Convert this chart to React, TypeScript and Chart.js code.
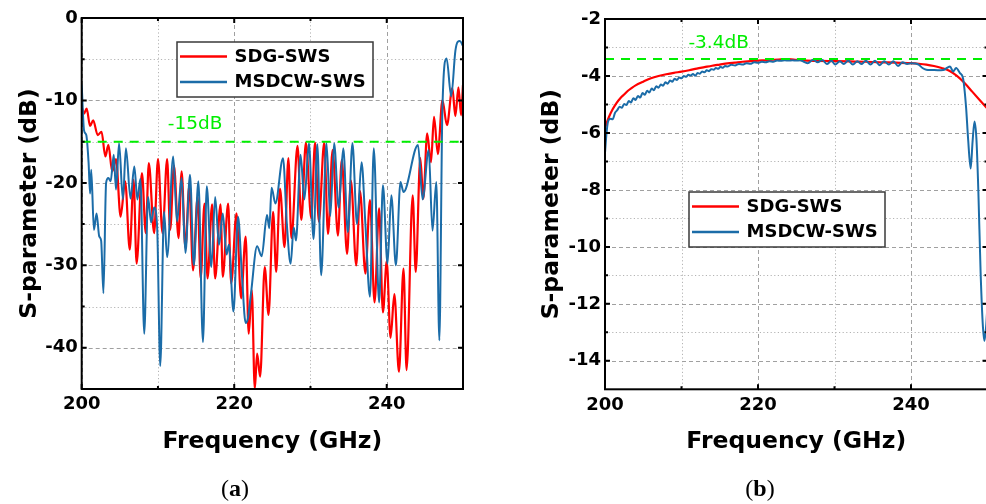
import React, { useEffect, useRef } from 'react';
import { Chart, registerables } from 'chart.js';

Chart.register(...registerables);

// ---------------- data ----------------
const SERIES_NAMES = ['SDG-SWS', 'MSDCW-SWS'];
const FREQ_MIN = 200;
const FREQ_MAX = 250;
const X_TICKS = [200, 220, 240];
const X_MINOR = [210, 230];

const A_Y_MIN = -45;
const A_Y_MAX = 0;
const A_Y_TICKS = [0, -10, -20, -30, -40];
const A_Y_MINOR = [-5, -15, -25, -35];
const A_THRESHOLD = -15;
const A_THRESHOLD_LABEL = '-15dB';

const B_Y_MIN = -15;
const B_Y_MAX = -2;
const B_Y_TICKS = [-2, -4, -6, -8, -10, -12, -14];
const B_Y_MINOR = [-3, -5, -7, -9, -11, -13];
const B_THRESHOLD = -3.4;
const B_THRESHOLD_LABEL = '-3.4dB';

// (a) reflection, SDG-SWS  [GHz, dB]
const A_SDG: [number, number][] = [
  [200.0, -10.8], [200.3, -11.6], [200.65, -11.0], [201.1, -13.1], [201.5, -12.4], [202.1, -14.2],
  [202.6, -13.8], [203.1, -16.8], [203.5, -15.4], [204.0, -18.6], [204.5, -17.1], [205.1, -24.1],
  [205.7, -19.8], [206.3, -28.1], [206.8, -19.6], [207.2, -29.8], [207.9, -18.8], [208.4, -26.1],
  [208.8, -17.6], [209.5, -26.1], [210.0, -17.1], [210.6, -26.1], [211.2, -17.1], [211.6, -25.7],
  [212.1, -17.9], [212.7, -26.7], [213.1, -18.6], [213.6, -27.9], [214.1, -20.4], [214.6, -30.6],
  [215.2, -21.7], [215.6, -31.6], [216.1, -22.5], [216.5, -31.6], [217.1, -22.6], [217.5, -31.6],
  [218.2, -22.6], [218.5, -31.4], [219.2, -22.5], [219.6, -32.2], [220.3, -23.7], [220.9, -34.0],
  [221.5, -26.5], [221.9, -38.3], [222.3, -33.0], [222.7, -45.0], [223.0, -40.7], [223.4, -43.5],
  [224.0, -30.2], [224.5, -36.0], [225.1, -23.5], [225.5, -30.8], [226.0, -20.7], [226.6, -27.8],
  [227.1, -17.0], [227.5, -26.7], [228.3, -15.5], [228.8, -24.5], [229.4, -15.1], [230.1, -24.3],
  [230.6, -15.1], [231.1, -24.7], [231.8, -15.1], [232.3, -26.2], [232.9, -16.0], [233.6, -26.4],
  [234.1, -17.2], [234.8, -28.6], [235.3, -19.7], [236.0, -30.0], [236.5, -21.0], [237.2, -31.0],
  [237.8, -22.1], [238.4, -34.5], [239.0, -23.1], [239.5, -35.7], [240.0, -29.5], [240.5, -38.8],
  [241.0, -33.5], [241.6, -42.9], [242.2, -30.4], [242.6, -42.7], [243.4, -21.5], [243.8, -30.8],
  [244.4, -17.0], [244.8, -21.9], [245.3, -14.0], [245.8, -17.5], [246.2, -12.0], [246.7, -16.5],
  [247.3, -10.0], [247.9, -13.0], [248.6, -8.5], [249.0, -11.9], [249.4, -8.4], [249.75, -11.8],
  [250.0, -8.1],
];

// (a) reflection, MSDCW-SWS
const A_MSDCW: [number, number][] = [
  [200.0, -8.1], [200.3, -13.6], [200.6, -14.2], [200.9, -17.5], [201.1, -21.3], [201.25, -18.4],
  [201.6, -25.7], [201.95, -23.7], [202.3, -26.5], [202.55, -27.0], [202.85, -33.4], [203.2, -20.0],
  [203.5, -19.4], [203.8, -19.8], [204.2, -16.6], [204.5, -20.8], [204.9, -15.2], [205.4, -22.0],
  [205.8, -15.8], [206.4, -21.9], [206.9, -18.0], [207.3, -22.0], [207.7, -19.5], [208.2, -38.3],
  [208.7, -21.7], [209.1, -24.8], [209.5, -23.0], [209.9, -25.5], [210.3, -42.2], [210.8, -23.5],
  [211.2, -29.0], [212.0, -16.8], [212.5, -24.7], [213.1, -19.4], [213.6, -28.5], [214.2, -19.0],
  [214.7, -30.0], [215.3, -19.8], [215.9, -39.3], [216.4, -20.4], [217.0, -30.2], [217.5, -21.7],
  [218.0, -27.5], [218.5, -23.7], [219.0, -28.7], [219.3, -27.5], [219.9, -35.6], [220.5, -24.1],
  [221.0, -31.0], [221.5, -37.0], [221.8, -36.4], [222.2, -33.4], [223.0, -27.7], [223.6, -28.9],
  [224.3, -23.9], [224.6, -25.5], [224.9, -20.6], [225.4, -22.5], [226.4, -17.0], [226.9, -25.0],
  [227.4, -29.8], [227.8, -25.4], [228.1, -27.0], [228.7, -16.6], [229.2, -22.0], [229.8, -15.2],
  [230.4, -26.8], [230.9, -15.3], [231.4, -31.2], [232.1, -15.2], [232.6, -24.0], [233.1, -15.2],
  [233.7, -23.0], [234.3, -15.8], [234.9, -26.0], [235.5, -15.2], [236.1, -25.0], [236.7, -17.5],
  [237.2, -25.0], [237.8, -33.8], [238.3, -15.8], [239.0, -34.5], [239.5, -20.3], [240.1, -29.8],
  [240.6, -21.5], [241.2, -30.0], [241.8, -19.9], [242.2, -21.1], [244.1, -15.4], [244.7, -22.0],
  [245.5, -16.0], [246.0, -25.8], [246.5, -19.9], [246.9, -39.1], [247.3, -11.0], [247.85, -4.9],
  [248.45, -9.5], [249.0, -4.0], [249.3, -2.9], [249.6, -2.8], [250.0, -3.4],
];

// (b) transmission, SDG-SWS
const B_SDG: [number, number][] = [
  [200.0, -5.82], [200.5, -5.45], [201.0, -5.17], [201.5, -4.95], [202.0, -4.78], [202.5, -4.65],
  [203.0, -4.52], [203.5, -4.42], [204.0, -4.33], [205.0, -4.2], [206.0, -4.08], [207.0, -4.0],
  [208.0, -3.94], [209.0, -3.89], [210.0, -3.85], [211.0, -3.8], [212.0, -3.74], [213.0, -3.69],
  [214.0, -3.64], [215.0, -3.6], [216.0, -3.56], [217.0, -3.53], [218.0, -3.5], [219.0, -3.48],
  [220.0, -3.46], [221.0, -3.45], [222.0, -3.43], [223.0, -3.42], [224.0, -3.41], [225.0, -3.43],
  [226.0, -3.45], [228.0, -3.47], [230.0, -3.48], [232.0, -3.49], [234.0, -3.5], [236.0, -3.52],
  [238.0, -3.53], [240.0, -3.55], [241.0, -3.57], [242.0, -3.6], [243.0, -3.65], [244.0, -3.72],
  [245.0, -3.82], [246.0, -4.0], [247.0, -4.25], [248.0, -4.55], [249.0, -4.85], [250.0, -5.15],
];

// (b) transmission, MSDCW-SWS
const B_MSDCW: [number, number][] = [
  [200.0, -6.7], [200.2, -6.0], [200.4, -5.6], [200.7, -5.5], [201.0, -5.52], [201.3, -5.3],
  [201.6, -5.2], [201.9, -5.08], [202.2, -5.12], [202.5, -4.98], [202.8, -5.02], [203.1, -4.88],
  [203.4, -4.93], [203.7, -4.78], [204.0, -4.84], [204.3, -4.7], [204.6, -4.76], [204.9, -4.6],
  [205.2, -4.66], [205.5, -4.52], [205.8, -4.58], [206.1, -4.44], [206.4, -4.5], [206.7, -4.36],
  [207.0, -4.41], [207.3, -4.3], [207.6, -4.34], [207.9, -4.22], [208.2, -4.27], [208.5, -4.16],
  [208.8, -4.2], [209.1, -4.1], [209.4, -4.14], [209.7, -4.05], [210.0, -4.08], [210.3, -4.0],
  [210.6, -4.03], [210.9, -3.96], [211.2, -3.98], [211.5, -3.93], [211.8, -3.99], [212.1, -3.9],
  [212.4, -3.92], [212.7, -3.84], [213.0, -3.87], [213.3, -3.8], [213.6, -3.83], [213.9, -3.76],
  [214.2, -3.78], [214.5, -3.72], [214.8, -3.75], [215.1, -3.68], [215.4, -3.71], [215.7, -3.65],
  [216.0, -3.67], [216.5, -3.61], [217.0, -3.63], [217.5, -3.58], [218.0, -3.6], [218.5, -3.55],
  [219.0, -3.57], [219.5, -3.52], [220.0, -3.54], [220.5, -3.5], [221.0, -3.52], [221.5, -3.48],
  [222.0, -3.5], [222.5, -3.46], [223.0, -3.47], [223.5, -3.45], [224.0, -3.46], [224.5, -3.45],
  [225.0, -3.46], [225.5, -3.45], [226.0, -3.5], [226.5, -3.55], [227.2, -3.43], [227.8, -3.52],
  [228.4, -3.44], [229.0, -3.58], [229.6, -3.47], [230.1, -3.6], [230.7, -3.48], [231.2, -3.58],
  [231.8, -3.46], [232.4, -3.6], [233.0, -3.48], [233.5, -3.58], [234.1, -3.47], [234.7, -3.6],
  [235.3, -3.47], [235.9, -3.62], [236.5, -3.48], [237.1, -3.6], [237.7, -3.48], [238.3, -3.65],
  [238.9, -3.52], [239.5, -3.58], [240.0, -3.55], [240.5, -3.56], [241.0, -3.6], [241.5, -3.72],
  [242.0, -3.78], [242.7, -3.79], [243.5, -3.8], [244.2, -3.79], [244.7, -3.72], [245.1, -3.67],
  [245.5, -3.84], [245.9, -3.72], [246.4, -3.9], [246.8, -4.08], [247.2, -5.1], [247.45, -6.15],
  [247.8, -7.25], [248.05, -6.3], [248.3, -5.6], [248.55, -6.2], [248.8, -8.0], [249.1, -10.9],
  [249.4, -12.8], [249.6, -13.3], [249.85, -12.7], [250.0, -12.0],
];

// ---------------- styles / layout ----------------
const RED = '#ff0000';
const BLUE = '#1b6ca8';
const GREEN = '#00ee00';
const FONT = "'DejaVu Sans', 'Liberation Sans', sans-serif";
const CANVAS_H = 504;

type Panel = {
  caption: string;
  canvasLeft: number;
  canvasWidth: number;
  plotLeft: number;
  plotRight: number;
  plotTop: number;
  plotBottom: number;
  yMin: number;
  yMax: number;
  yTicks: number[];
  yMinor: number[];
  threshold: number;
  thrLabel: string;
  thrLabelFreq: number;
  thrLabelLift: number;
  legendDx: number;
  legendDy: number;
  yTitleCenter: number;
  captionCenter: number;
  sdg: [number, number][];
  msdcw: [number, number][];
};

const PANELS: Panel[] = [
  {
    caption: 'a', canvasLeft: 0, canvasWidth: 486,
    plotLeft: 81.7, plotRight: 463, plotTop: 18, plotBottom: 389,
    yMin: A_Y_MIN, yMax: A_Y_MAX, yTicks: A_Y_TICKS, yMinor: A_Y_MINOR,
    threshold: A_THRESHOLD, thrLabel: A_THRESHOLD_LABEL, thrLabelFreq: 211.3, thrLabelLift: 12.2,
    legendDx: 95.3, legendDy: 24, yTitleCenter: 29.5, captionCenter: 235,
    sdg: A_SDG, msdcw: A_MSDCW,
  },
  {
    caption: 'b', canvasLeft: 493, canvasWidth: 500,
    plotLeft: 605, plotRight: 987.5, plotTop: 19, plotBottom: 389.3,
    yMin: B_Y_MIN, yMax: B_Y_MAX, yTicks: B_Y_TICKS, yMinor: B_Y_MINOR,
    threshold: B_THRESHOLD, thrLabel: B_THRESHOLD_LABEL, thrLabelFreq: 210.9, thrLabelLift: 10.6,
    legendDx: 84, legendDy: 173, yTitleCenter: 551.5, captionCenter: 760,
    sdg: B_SDG, msdcw: B_MSDCW,
  },
];

function makeDecorPlugin(p: Panel) {
  return {
    id: 'decor',
    beforeDatasetsDraw(chart: any) {
      const { ctx, chartArea: ca, scales } = chart;
      const x = scales.x, y = scales.y;
      ctx.save();
      ctx.lineWidth = 1;
      // minor dotted grid
      ctx.setLineDash([1.2, 2.4]);
      ctx.strokeStyle = '#b4b4b4';
      ctx.beginPath();
      X_MINOR.forEach((v) => { const px = Math.round(x.getPixelForValue(v)) + 0.5; ctx.moveTo(px, ca.top); ctx.lineTo(px, ca.bottom); });
      p.yMinor.forEach((v) => { const py = Math.round(y.getPixelForValue(v)) + 0.5; ctx.moveTo(ca.left, py); ctx.lineTo(ca.right, py); });
      ctx.stroke();
      // major dashed grid
      ctx.setLineDash([4, 3]);
      ctx.strokeStyle = '#a0a0a0';
      ctx.beginPath();
      X_TICKS.forEach((v) => { const px = Math.round(x.getPixelForValue(v)) + 0.5; ctx.moveTo(px, ca.top); ctx.lineTo(px, ca.bottom); });
      p.yTicks.forEach((v) => { const py = Math.round(y.getPixelForValue(v)) + 0.5; ctx.moveTo(ca.left, py); ctx.lineTo(ca.right, py); });
      ctx.stroke();
      ctx.restore();
    },
    afterDatasetsDraw(chart: any) {
      const { ctx, chartArea: ca, scales } = chart;
      const x = scales.x, y = scales.y;
      ctx.save();
      // frame
      ctx.setLineDash([]);
      ctx.strokeStyle = '#000';
      ctx.lineWidth = 2;
      ctx.strokeRect(ca.left, ca.top, ca.right - ca.left, ca.bottom - ca.top);
      // inward ticks
      ctx.lineWidth = 2;
      ctx.beginPath();
      const tickX = (v: number, len: number) => {
        const px = x.getPixelForValue(v);
        ctx.moveTo(px, ca.bottom); ctx.lineTo(px, ca.bottom - len);
        ctx.moveTo(px, ca.top); ctx.lineTo(px, ca.top + len);
      };
      const tickY = (v: number, len: number) => {
        const py = y.getPixelForValue(v);
        ctx.moveTo(ca.left, py); ctx.lineTo(ca.left + len, py);
        ctx.moveTo(ca.right, py); ctx.lineTo(ca.right - len, py);
      };
      X_TICKS.forEach((v) => tickX(v, 5));
      X_MINOR.forEach((v) => tickX(v, 3));
      p.yTicks.forEach((v) => tickY(v, 5));
      p.yMinor.forEach((v) => tickY(v, 3));
      ctx.stroke();
      // threshold label
      ctx.fillStyle = GREEN;
      ctx.font = `18.5px ${FONT}`;
      ctx.textAlign = 'left';
      ctx.textBaseline = 'alphabetic';
      ctx.fillText(p.thrLabel, x.getPixelForValue(p.thrLabelFreq), y.getPixelForValue(p.threshold) - p.thrLabelLift);
      // legend
      const lx = ca.left + p.legendDx;
      const ly = ca.top + p.legendDy;
      const lw = 196, lh = 55;
      ctx.fillStyle = '#fff';
      ctx.fillRect(lx, ly, lw, lh);
      ctx.strokeStyle = '#3a3a3a';
      ctx.lineWidth = 1.5;
      ctx.strokeRect(lx, ly, lw, lh);
      const items = chart.data.datasets.filter((d: any) => SERIES_NAMES.includes(d.label));
      items.forEach((d: any, i: number) => {
        const ry = ly + 14.5 + i * 25.5;
        ctx.strokeStyle = d.borderColor;
        ctx.lineWidth = 2.4;
        ctx.beginPath();
        ctx.moveTo(lx + 3, ry);
        ctx.lineTo(lx + 50, ry);
        ctx.stroke();
        ctx.fillStyle = '#000';
        ctx.font = `bold 18px ${FONT}`;
        ctx.textBaseline = 'middle';
        ctx.fillText(d.label, lx + 57.5, ry + 0.5);
      });
      ctx.restore();
    },
  };
}

function PanelChart({ p }: { p: Panel }) {
  const ref = useRef<HTMLCanvasElement | null>(null);
  useEffect(() => {
    if (!ref.current) return;
    const W = p.canvasWidth;
    const leftPlot = p.plotLeft - p.canvasLeft;
    const rightPad = W - (p.plotRight - p.canvasLeft);
    const xTitleLine = 23.5 * 1.2;
    const chart = new Chart(ref.current, {
      type: 'line',
      data: {
        datasets: [
          {
            label: SERIES_NAMES[0],
            data: p.sdg.map(([fx, fy]) => ({ x: fx, y: fy })),
            borderColor: RED, borderWidth: 2.2, pointRadius: 0,
            cubicInterpolationMode: 'monotone', order: 2, fill: false,
          },
          {
            label: SERIES_NAMES[1],
            data: p.msdcw.map(([fx, fy]) => ({ x: fx, y: fy })),
            borderColor: BLUE, borderWidth: 2, pointRadius: 0,
            cubicInterpolationMode: 'monotone', order: 1, fill: false,
          },
          {
            label: p.thrLabel,
            data: [{ x: FREQ_MIN, y: p.threshold }, { x: FREQ_MAX, y: p.threshold }],
            borderColor: GREEN, borderWidth: 2, borderDash: [9, 7], pointRadius: 0, order: 0, fill: false,
          },
        ],
      } as any,
      options: {
        animation: false,
        responsive: false,
        maintainAspectRatio: false,
        layout: { padding: { left: 0, top: p.plotTop, right: rightPad, bottom: 0 } },
        plugins: { legend: { display: false }, tooltip: { enabled: false }, title: { display: false } },
        scales: {
          x: {
            type: 'linear', min: FREQ_MIN, max: FREQ_MAX,
            grid: { display: false, drawTicks: false },
            border: { display: false },
            afterBuildTicks: (s: any) => { s.ticks = X_TICKS.map((v) => ({ value: v })); },
            afterFit: (s: any) => { s.height = CANVAS_H - p.plotBottom; },
            ticks: { color: '#000', font: { family: FONT, size: 18, weight: 'bold' }, padding: 5, maxRotation: 0, autoSkip: false },
            title: {
              display: true, text: 'Frequency (GHz)', color: '#000',
              font: { family: FONT, size: 23.5, weight: 'bold' },
              padding: { top: 0, bottom: CANVAS_H - 442 - xTitleLine / 2 },
            },
          },
          y: {
            type: 'linear', min: p.yMin, max: p.yMax,
            grid: { display: false, drawTicks: false },
            border: { display: false },
            afterBuildTicks: (s: any) => { s.ticks = p.yTicks.map((v) => ({ value: v })); },
            afterFit: (s: any) => { s.width = leftPlot; },
            ticks: { color: '#000', font: { family: FONT, size: 18, weight: 'bold' }, padding: 4, autoSkip: false },
            title: {
              display: true, text: 'S-parameter (dB)', color: '#000',
              font: { family: FONT, size: 23.5, weight: 'bold' },
              padding: { top: p.yTitleCenter - p.canvasLeft - xTitleLine / 2, bottom: 0 },
            },
          },
        },
      } as any,
      plugins: [makeDecorPlugin(p)],
    });
    return () => chart.destroy();
  }, [p]);
  return (
    <canvas
      ref={ref}
      width={p.canvasWidth}
      height={CANVAS_H}
      style={{ position: 'absolute', left: p.canvasLeft, top: 0, width: p.canvasWidth, height: CANVAS_H }}
    />
  );
}

export default function App() {
  return (
    <div style={{ position: 'fixed', left: 0, top: 0, width: 986, height: 504, overflow: 'hidden', background: '#fff' }}>
      {PANELS.map((p) => (
        <PanelChart key={p.caption} p={p} />
      ))}
      {PANELS.map((p) => (
        <div
          key={'cap' + p.caption}
          style={{
            position: 'absolute', left: p.captionCenter - 50, width: 100, top: 473, height: 30,
            textAlign: 'center', fontFamily: "'Liberation Serif', 'DejaVu Serif', serif",
            fontSize: 24, lineHeight: '30px', color: '#000',
          }}
        >
          (<b>{p.caption}</b>)
        </div>
      ))}
    </div>
  );
}
